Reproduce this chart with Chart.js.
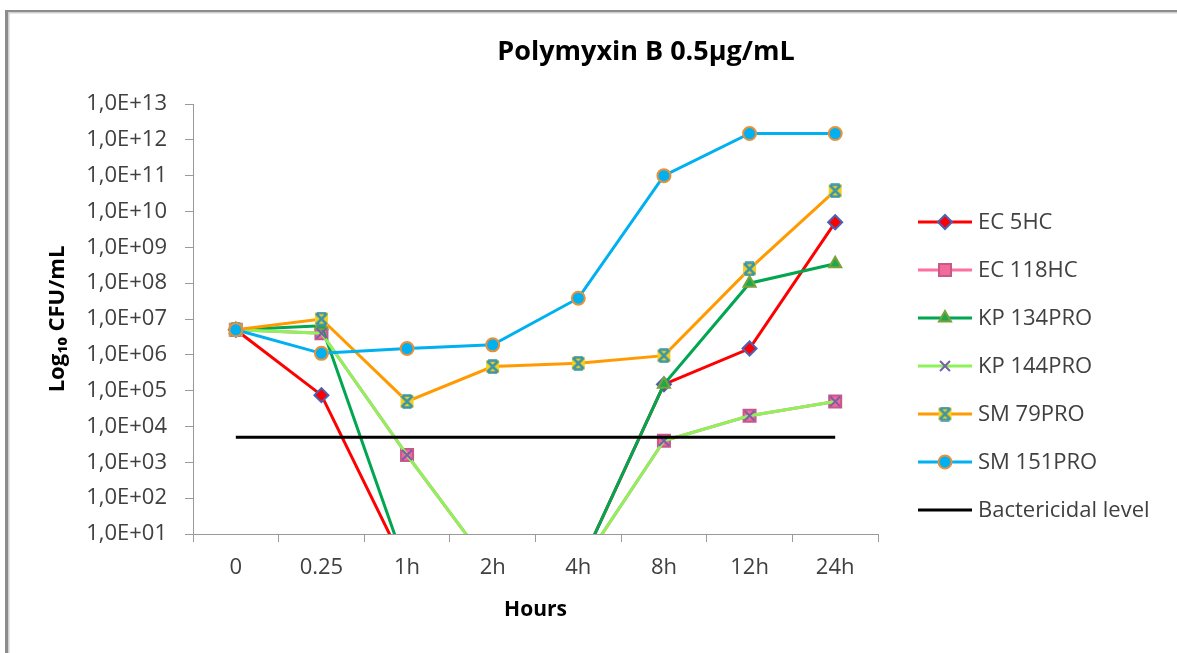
<!DOCTYPE html>
<html>
<head>
<meta charset="utf-8">
<script src="https://cdn.jsdelivr.net/npm/chart.js@4/dist/chart.umd.min.js"></script>
<style>
  body { margin: 0; background: #fff; }
  #wrap { width: 1177px; height: 653px; }
</style>
</head>
<body>
<div id="wrap"><canvas id="killChart" width="1177" height="653"></canvas></div>
<script>
// time points (categories)
const hours = ['0', '0.25', '1h', '2h', '4h', '8h', '12h', '24h'];

// CFU/mL (values below the axis floor shown as 1)
const ec5hc   = [5e6, 7.5e4, 1, 1, 1, 1.5e5, 1.5e6, 5e9];
const ec118hc = [5e6, 4e6, 1.6e3, 1, 1, 4e3, 2e4, 5e4];
const kp134   = [5e6, 6.5e6, 1, 1, 1, 1.5e5, 1e8, 3.5e8];
const kp144   = [5e6, 4e6, 1.6e3, 1, 1, 4e3, 2e4, 5e4];
const sm79    = [5e6, 1e7, 5e4, 4.7e5, 5.8e5, 9.5e5, 2.5e8, 3.8e10];
const sm151   = [5e6, 1.1e6, 1.5e6, 1.9e6, 3.8e7, 1e11, 1.5e12, 1.5e12];
const bactericidal = [5e3, 5e3, 5e3, 5e3, 5e3, 5e3, 5e3, 5e3];

// y tick exponents
const tickExponents = [1, 2, 3, 4, 5, 6, 7, 8, 9, 10, 11, 12, 13];

const FONT = '"Open Sans", Lato, sans-serif';

// yellow box with teal cross, like the Excel star marker
function starMarker() {
  const c = document.createElement('canvas');
  c.width = 15; c.height = 15;
  const g = c.getContext('2d');
  g.fillStyle = '#f5d020';
  g.fillRect(1, 1, 13, 13);
  g.strokeStyle = '#3a95a8';
  g.lineWidth = 2.5;
  g.beginPath();
  g.moveTo(2, 2); g.lineTo(13, 13);
  g.moveTo(13, 2); g.lineTo(2, 13);
  g.moveTo(3, 1.5); g.lineTo(12, 1.5);
  g.moveTo(3, 13.5); g.lineTo(12, 13.5);
  g.stroke();
  return c;
}

const series = [
  { label: 'EC 5HC', data: ec5hc, color: '#ff0000', style: 'rectRot', fill: '#ff0000', edge: '#4a62b8', r: 7 },
  { label: 'EC 118HC', data: ec118hc, color: '#ff6fa0', style: 'rect', fill: '#f06a9a', edge: '#c9588a', r: 8.5 },
  { label: 'KP 134PRO', data: kp134, color: '#00a650', style: 'triangle', fill: '#1fa84a', edge: '#77a33c', r: 7 },
  { label: 'KP 144PRO', data: kp144, color: '#8ef25a', style: 'crossRot', fill: '#7a5fa8', edge: '#7a5fa8', r: 7 },
  { label: 'SM 79PRO', data: sm79, color: '#ff9b00', style: starMarker(), fill: '#f5d020', edge: '#3a95a8', r: 7 },
  { label: 'SM 151PRO', data: sm151, color: '#00b0f0', style: 'circle', fill: '#00b0f0', edge: '#e8913a', r: 6.5 }
];

const datasets = series.map((s, i) => ({
  label: s.label,
  data: s.data,
  borderColor: s.color,
  backgroundColor: s.color,
  borderWidth: 3,
  pointStyle: s.style,
  pointRadius: s.r,
  pointHoverRadius: s.r,
  pointBackgroundColor: s.fill,
  pointBorderColor: s.edge,
  pointBorderWidth: 2,
  tension: 0,
  order: series.length + 1 - i
}));

datasets.push({
  label: 'Bactericidal level',
  data: bactericidal,
  borderColor: '#000000',
  backgroundColor: '#000000',
  borderWidth: 3,
  pointRadius: 0,
  order: 0
});

// frame around the chart, Excel style, plus the title centred on the whole frame
const framePlugin = {
  id: 'frame',
  beforeDraw(chart) {
    const ctx = chart.ctx;
    ctx.save();
    ctx.fillStyle = '#fff';
    ctx.fillRect(0, 0, chart.width, chart.height);
    ctx.fillStyle = '#8c8c8c';
    ctx.fillRect(5, 10, 3, chart.height - 10);
    ctx.fillRect(5, 10, chart.width - 5, 2);
    ctx.fillStyle = '#d0d0d0';
    ctx.fillRect(8, 12, 1.5, chart.height - 12);
    ctx.fillRect(8, 12, chart.width - 8, 1.5);
    ctx.fillStyle = '#000';
    ctx.font = 'bold 27px ' + FONT;
    ctx.textAlign = 'center';
    ctx.textBaseline = 'middle';
    ctx.fillText('Polymyxin B 0.5µg/mL', 646, 52);
    ctx.restore();
  }
};

// legend with line + marker
const sideLegend = {
  id: 'sideLegend',
  afterDraw(chart) {
    const ctx = chart.ctx;
    ctx.save();
    chart.data.datasets.forEach((ds, i) => {
      const y = 222 + 48 * i;
      ctx.strokeStyle = ds.borderColor;
      ctx.lineWidth = 3;
      ctx.beginPath();
      ctx.moveTo(918, y);
      ctx.lineTo(972, y);
      ctx.stroke();
      if (ds.pointRadius > 0) {
        ctx.fillStyle = ds.pointBackgroundColor;
        ctx.strokeStyle = ds.pointBorderColor;
        ctx.lineWidth = ds.pointBorderWidth;
        Chart.helpers.drawPoint(ctx, {
          pointStyle: ds.pointStyle, radius: ds.pointRadius, rotation: 0, borderWidth: ds.pointBorderWidth
        }, 945, y);
      }
      ctx.fillStyle = '#404040';
      ctx.font = '22px ' + FONT;
      ctx.textBaseline = 'middle';
      ctx.textAlign = 'left';
      ctx.fillText(ds.label, 978, y + 1);
    });
    ctx.restore();
  }
};

new Chart(document.getElementById('killChart'), {
  type: 'line',
  data: { labels: hours, datasets: datasets },
  options: {
    responsive: false,
    animation: false,
    layout: { padding: { left: 10, right: 299, top: 104, bottom: 0 } },
    plugins: {
      legend: { display: false },
      tooltip: { enabled: false },
      title: { display: false }
    },
    scales: {
      x: {
        type: 'category',
        offset: true,
        grid: { offset: true, drawOnChartArea: false, tickLength: 8, color: '#9a9a9a' },
        border: { color: '#9a9a9a', width: 1 },
        ticks: { color: '#404040', font: { family: FONT, size: 22 }, padding: 13, maxRotation: 0 },
        title: {
          display: true,
          text: 'Hours',
          color: '#000',
          font: { family: FONT, size: 21, weight: 'bold' },
          padding: { top: 0, bottom: 30 }
        },
        afterFit(scale) { scale.height = 119; }
      },
      y: {
        type: 'logarithmic',
        min: 10,
        max: 1e13,
        grid: { drawOnChartArea: false, tickLength: 8, color: '#9a9a9a' },
        border: { color: '#9a9a9a', width: 1 },
        ticks: {
          color: '#404040',
          font: { family: FONT, size: 22 },
          padding: 18,
          autoSkip: false,
          callback: v => {
            const e = Math.round(Math.log10(v));
            return '1,0E+' + String(e).padStart(2, '0');
          }
        },
        afterBuildTicks(scale) {
          scale.ticks = tickExponents.map(e => ({ value: Math.pow(10, e), major: true }));
        },
        title: {
          display: true,
          text: 'Log₁₀ CFU/mL',
          color: '#000',
          font: { family: FONT, size: 22, weight: 'bold' },
          padding: { top: 35, bottom: 0 }
        },
        afterFit(scale) { scale.width = 183; }
      }
    }
  },
  plugins: [framePlugin, sideLegend]
});
</script>
</body>
</html>
